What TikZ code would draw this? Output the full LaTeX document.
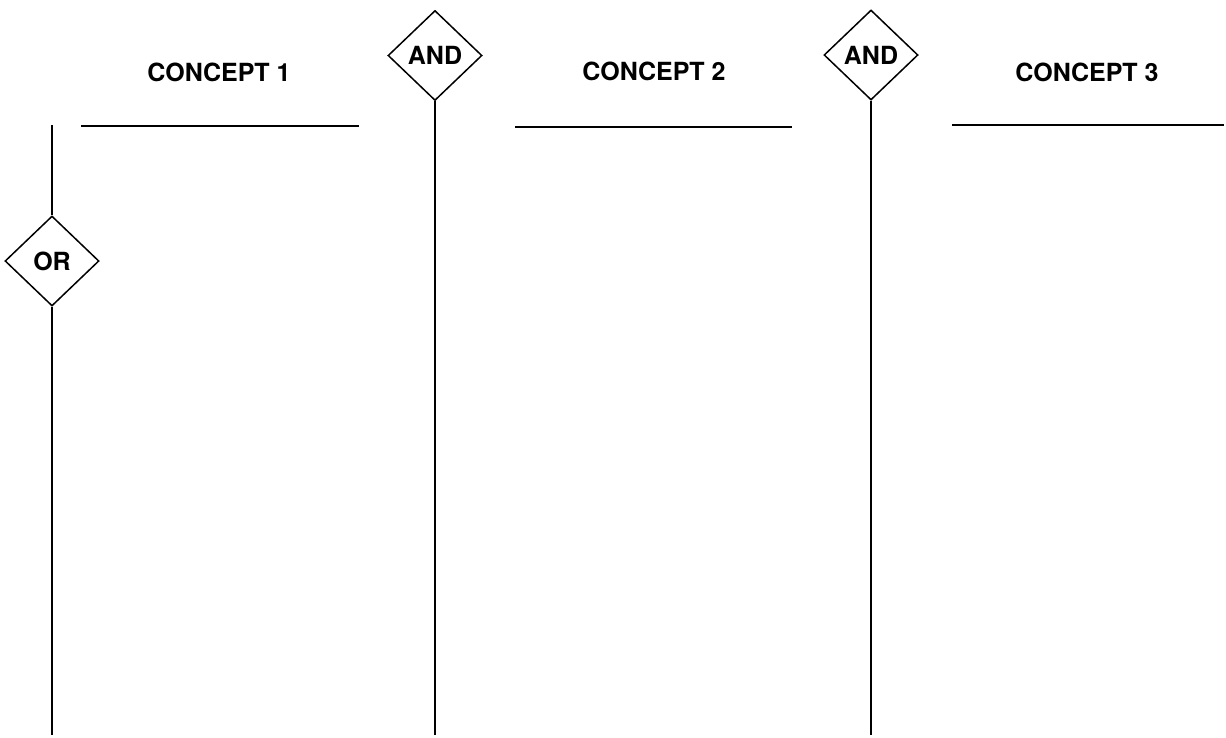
\documentclass[tikz,border=0pt]{standalone}
\usepackage{fontspec}
\setmainfont{TeX Gyre Heros}
\usetikzlibrary{shapes.geometric}
\begin{document}
\begin{tikzpicture}[x=1pt,y=-1pt,
  lbl/.style={inner sep=0pt,font=\fontsize{25}{30}\selectfont\bfseries},
  gate/.style={diamond,draw,line width=1.5pt,inner sep=0pt,minimum width=94pt,minimum height=90pt,font=\fontsize{25}{30}\selectfont\bfseries},
  rule/.style={line width=1.8pt}]
\useasboundingbox (0,0) rectangle (1226,737);
% labels
\node[lbl] (c1) at (219,72) {CONCEPT 1};
\node[lbl] (c2) at (654,71) {CONCEPT 2};
\node[lbl] (c3) at (1087,72) {CONCEPT 3};
% gates
\node[gate] (or) at (52,261) {OR};
\node[gate] (and1) at (435,55.5) {AND};
\node[gate] (and2) at (871,55) {AND};
% free ends
\coordinate (ortop) at (52,125);
\coordinate (orbot) at (52,735);
\coordinate (a1bot) at (435,735);
\coordinate (a2bot) at (871,735);
\coordinate (l1a) at (81,126); \coordinate (l1b) at (359,126);
\coordinate (l2a) at (515,127); \coordinate (l2b) at (792,127);
\coordinate (l3a) at (952,125); \coordinate (l3b) at (1224,125);
% connectors
\draw[rule] (ortop) -- (or.north);
\draw[rule] (or.south) -- (orbot);
\draw[rule] (and1.south) -- (a1bot);
\draw[rule] (and2.south) -- (a2bot);
% underlines
\draw[rule] (l1a) -- (l1b);
\draw[rule] (l2a) -- (l2b);
\draw[rule] (l3a) -- (l3b);
\end{tikzpicture}
\end{document}
